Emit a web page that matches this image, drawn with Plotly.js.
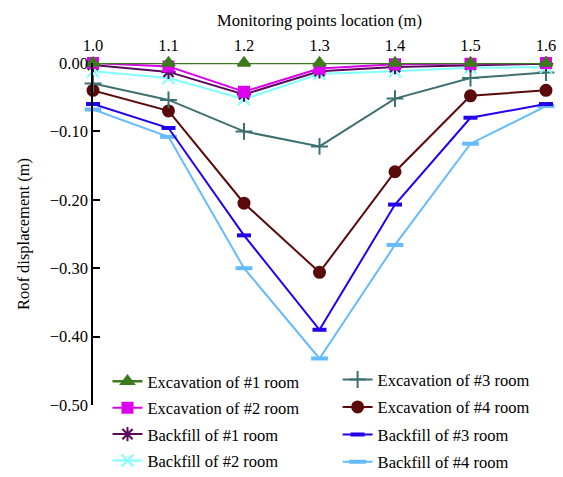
<!DOCTYPE html>
<html><head><meta charset="utf-8">
<script src="https://cdn.plot.ly/plotly-3.0.1.min.js"></script>
<style>body{margin:0}#c{width:563px;height:477px}</style>
</head><body><div id="c"></div>
<script>
const xPts = [1.0, 1.1, 1.2, 1.3, 1.4, 1.5, 1.6];
const exc1 = [0.000, 0.000, 0.000, 0.000, 0.000, 0.000, 0.000];
const exc2 = [0.000, -0.005, -0.042, -0.008, -0.002, -0.001, 0.000];
const back1 = [-0.003, -0.013, -0.046, -0.012, -0.006, -0.003, -0.001];
const back2 = [-0.012, -0.022, -0.053, -0.016, -0.012, -0.007, -0.006];
const exc3 = [-0.030, -0.054, -0.100, -0.122, -0.052, -0.022, -0.014];
const exc4 = [-0.040, -0.070, -0.205, -0.306, -0.159, -0.048, -0.040];
const back3 = [-0.060, -0.095, -0.252, -0.390, -0.207, -0.080, -0.060];
const back4 = [-0.068, -0.108, -0.300, -0.432, -0.266, -0.118, -0.063];
const names = ["Excavation of #1 room","Excavation of #2 room","Backfill of #1 room","Backfill of #2 room",
               "Excavation of #3 room","Excavation of #4 room","Backfill of #3 room","Backfill of #4 room"];

function tr(y, name, color, symbol, size, leg, rank, extra, lw) {
  const m = Object.assign({symbol: symbol, size: size, color: color, line: {color: color, width: 2}}, extra || {});
  return {x: xPts, y: y, name: name, type: 'scatter', mode: 'lines+markers', cliponaxis: false,
    line: {color: color, width: lw || 2}, marker: m, legend: leg, legendgroup: name, legendrank: rank};
}
const data = [
  tr(back4, names[7], '#66bbff', 'line-ew-open', 12, 'legend2', 8, {line: {color: '#66bbff', width: 4}}),
  tr(back3, names[6], '#2200ee', 'line-ew-open', 10, 'legend2', 7, {line: {color: '#2200ee', width: 4}}),
  tr(exc4, names[5], '#5a0a0a', 'circle', 11, 'legend2', 6),
  tr(exc3, names[4], '#3d7070', 'cross-thin-open', 12, 'legend2', 5),
  tr(back2, names[3], '#80ffff', 'x-thin-open', 12, 'legend', 4),
  tr(back1, names[2], '#5a0a5a', 'asterisk-open', 12, 'legend', 3),
  tr(exc2, names[1], '#dd00ee', 'square', 10, 'legend', 2),
  tr(exc1, names[0], '#3d7a1e', 'triangle-up', 11, 'legend', 1, null, 2.5)
];
const font = {family: 'Liberation Serif, Times New Roman, serif', size: 16.5, color: '#000'};
const layout = {
  width: 563, height: 477,
  margin: {l: 93, r: 17, t: 63, b: 72, autoexpand: false},
  paper_bgcolor: '#fff', plot_bgcolor: '#fff',
  font: font,
  showlegend: true,
  xaxis: {side: 'top', range: [1.0, 1.6], tickvals: xPts, ticktext: xPts.map(v => v.toFixed(1)),
    showgrid: false, zeroline: false, showline: false, ticks: '', ticklabelstandoff: 8,
    title: {text: 'Monitoring points location (m)', font: font, standoff: 4}},
  yaxis: {range: [-0.5, 0], dtick: 0.1, tickformat: '.2f', showgrid: false, zeroline: false,
    showline: true, linecolor: '#000', linewidth: 1.5, ticks: 'inside', ticklen: 7, tickcolor: '#000', tickwidth: 1.5,
    title: {text: 'Roof displacement (m)', font: font, standoff: 16}},
  legend: {x: 0.032, y: 0.12, xanchor: 'left', yanchor: 'top', traceorder: 'grouped', tracegroupgap: 2,
    bgcolor: 'rgba(0,0,0,0)', font: font, borderwidth: 0},
  legend2: {x: 0.54, y: 0.125, xanchor: 'left', yanchor: 'top', traceorder: 'grouped', tracegroupgap: 3,
    bgcolor: 'rgba(0,0,0,0)', font: font, borderwidth: 0}
};
Plotly.newPlot('c', data, layout, {displayModeBar: false});
</script></body></html>
